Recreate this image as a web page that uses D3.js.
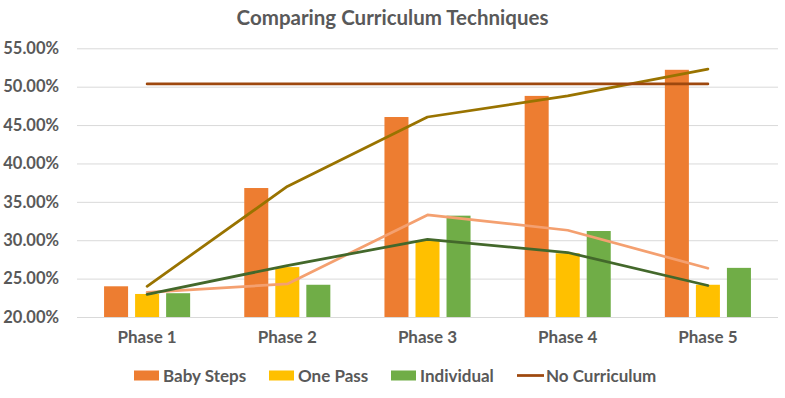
<!DOCTYPE html>
<html>
<head>
  <meta charset="utf-8">
  <script src="https://d3js.org/d3.v7.min.js"></script>
  <style>
    body { margin: 0; background: #fff; }
    text { font-family: Lato, "Open Sans", sans-serif; font-weight: bold; fill: #595959; }
  </style>
</head>
<body>
  <div id="chart"></div>
  <script>
    // data (values in %)
    var phases = ["Phase 1", "Phase 2", "Phase 3", "Phase 4", "Phase 5"];
    var babySteps = [24.0, 36.8, 46.05, 48.8, 52.2];
    var onePass = [23.0, 26.5, 30.0, 28.3, 24.2];
    var individual = [23.1, 24.2, 33.2, 31.2, 26.4];
    var noCurriculum = [50.35, 50.35, 50.35, 50.35, 50.35];
    // extra lines without legend entries
    var oliveLine = [24.0, 37.0, 46.05, 48.8, 52.3];
    var salmonLine = [23.2, 24.3, 33.3, 31.3, 26.35];
    var darkGreenLine = [22.95, 26.7, 30.1, 28.4, 24.1];
    var yTicks = [20, 25, 30, 35, 40, 45, 50, 55];

    var barSeries = [
      { name: "Baby Steps", values: babySteps, color: "#ED7D31" },
      { name: "One Pass", values: onePass, color: "#FFC000" },
      { name: "Individual", values: individual, color: "#70AD47" }
    ];
    var lineSeries = [
      { name: "olive", values: oliveLine, color: "#997300" },
      { name: "salmon", values: salmonLine, color: "#F4A070" },
      { name: "darkgreen", values: darkGreenLine, color: "#43682B" },
      { name: "No Curriculum", values: noCurriculum, color: "#9E480E" }
    ];

    var W = 785, H = 398;
    var margin = { top: 48.3, right: 7, bottom: 81, left: 77 },
      width = W - margin.left - margin.right,
      height = H - margin.top - margin.bottom;

    var svg = d3.select("#chart").append("svg")
      .attr("width", W).attr("height", H);

    svg.append("text")
      .attr("x", W / 2).attr("y", 25)
      .attr("text-anchor", "middle")
      .style("font-size", "20.5px")
      .text("Comparing Curriculum Techniques");

    var g = svg.append("g")
      .attr("transform", "translate(" + margin.left + "," + margin.top + ")");

    var x0 = d3.scaleBand().domain(phases).range([0, width]).padding(0);
    var bw = x0.bandwidth();
    var x1 = d3.scaleBand().domain(barSeries.map(function (d) { return d.name; }))
      .range([bw * 0.193, bw * 0.807]).paddingInner(0.226);

    var y = d3.scaleLinear().domain([20, 55]).range([height, 0]);

    // grid + y labels
    var yAxis = g.append("g")
      .call(d3.axisLeft(y).tickValues(yTicks).tickSize(-width).tickPadding(18)
        .tickFormat(function (d) { return d3.format(".2f")(d) + "%"; }));
    yAxis.select(".domain").remove();
    yAxis.selectAll("line").attr("stroke", "#D9D9D9").attr("stroke-width", 1);
    yAxis.selectAll("text").style("font-size", "16.5px");

    // x labels
    var xAxis = g.append("g")
      .attr("transform", "translate(0," + height + ")")
      .call(d3.axisBottom(x0).tickSize(0).tickPadding(14));
    xAxis.select(".domain").remove();
    xAxis.selectAll("text").style("font-size", "17px");

    // bars
    barSeries.forEach(function (s) {
      g.append("g").selectAll("rect")
        .data(s.values)
        .enter().append("rect")
        .attr("x", function (d, i) { return x0(phases[i]) + x1(s.name); })
        .attr("y", function (d) { return y(d); })
        .attr("width", x1.bandwidth())
        .attr("height", function (d) { return height - y(d); })
        .attr("fill", s.color);
    });

    // lines at category centres
    var line = d3.line()
      .x(function (d, i) { return x0(phases[i]) + bw / 2; })
      .y(function (d) { return y(d); });

    lineSeries.forEach(function (s) {
      g.append("path")
        .attr("d", line(s.values))
        .attr("fill", "none")
        .attr("stroke", s.color)
        .attr("stroke-width", 2.75)
        .attr("stroke-linejoin", "round")
        .attr("stroke-linecap", "round");
    });

    // legend
    var legendItems = [
      { name: "Baby Steps", color: "#ED7D31", type: "bar", x: 134 },
      { name: "One Pass", color: "#FFC000", type: "bar", x: 269 },
      { name: "Individual", color: "#70AD47", type: "bar", x: 391 },
      { name: "No Curriculum", color: "#9E480E", type: "line", x: 517 }
    ];
    var legend = svg.append("g");
    legendItems.forEach(function (d) {
      if (d.type === "bar") {
        legend.append("rect").attr("x", d.x).attr("y", 370.5)
          .attr("width", 25).attr("height", 10).attr("fill", d.color);
      } else {
        legend.append("line").attr("x1", d.x).attr("x2", d.x + 27)
          .attr("y1", 375.5).attr("y2", 375.5)
          .attr("stroke", d.color).attr("stroke-width", 2.75);
      }
      legend.append("text").attr("x", d.x + 29).attr("y", 381.5)
        .style("font-size", "17px").text(d.name);
    });
  </script>
</body>
</html>
